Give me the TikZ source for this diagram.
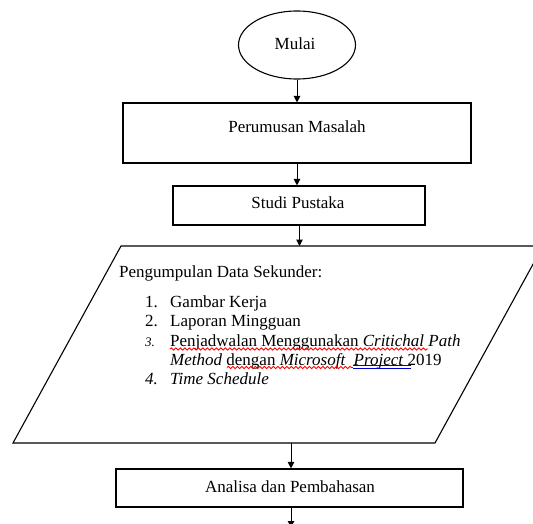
\documentclass[tikz,border=0pt]{standalone}
\usepackage{fontspec}
\setmainfont{Liberation Serif}
\usetikzlibrary{arrows.meta,shapes.geometric,decorations.pathmorphing}
\begin{document}
\begin{tikzpicture}[x=1pt,y=-1pt,
  box/.style={draw,line width=1.1pt,rectangle,inner sep=0pt},
  txt/.style={font=\fontsize{17}{19}\selectfont,inner sep=0pt},
  arr/.style={line width=1pt,-{Triangle[width=6.5pt,length=6.5pt]}},
  wave/.style={draw=red,line width=0.9pt,decorate,decoration={snake,segment length=4.5pt,amplitude=1.1pt}},
  dbl/.style={draw=blue!80!black,line width=0.8pt}]
\useasboundingbox (0,0) rectangle (533,524);
\clip (0,0) rectangle (533,524);
\fill[white] (0,0) rectangle (533,524);
% start
\node[draw,line width=1.1pt,ellipse,minimum width=117pt,minimum height=68pt,inner sep=0pt] (mulai) at (297,45) {};
\node[txt] (tmulai) at (295,44) {Mulai};
% boxes
\node[box,minimum width=348pt,minimum height=60pt] (b1) at (297,133) {};
\node[txt] (t1) at (297,127) {Perumusan Masalah};
\node[box,minimum width=252pt,minimum height=39pt] (b2) at (299,205.5) {};
\node[txt] (t2) at (298,203) {Studi Pustaka};
\node[box,minimum width=347pt,minimum height=38pt] (b3) at (289.5,488) {};
\node[txt] (t3) at (290,487) {Analisa dan Pembahasan};
% parallelogram
\coordinate (pbl) at (13,443);
\coordinate (ptl) at (121,246);
\coordinate (ptr) at (543,246);
\coordinate (pbr) at (435,443);
\draw[line width=1.1pt,line join=miter] (pbl) -- (ptl) -- (ptr) -- (pbr) -- cycle;
\coordinate (pin) at (299.5,246);
\coordinate (pout) at (291,443);
\coordinate (fin) at (291,527.5);
% text in parallelogram
\node[txt,anchor=base west] (h) at (119,277.5) {Pengumpulan Data Sekunder:};
\node[txt,anchor=base west] (n1) at (145,307.5) {1.};
\node[txt,anchor=base west] (i1) at (170,307.5) {Gambar Kerja};
\node[txt,anchor=base west] (n2) at (145,326.5) {2.};
\node[txt,anchor=base west] (i2) at (170,326.5) {Laporan Mingguan};
\node[txt,anchor=base west] (n3) at (145,346.5) {\fontsize{13}{15}\selectfont\itshape 3.};
\node[txt,anchor=base west] (i3) at (170,346.5) {Penjadwalan Menggunakan \textit{Critichal Path}};
\node[txt,anchor=base west] (i3b) at (170,365) {\textit{Method} dengan \textit{Microsoft\ \ Project} 2019};
\node[txt,anchor=base west] (n4) at (145,384.5) {\textit{4.}};
\node[txt,anchor=base west] (i4) at (170,384.5) {\textit{Time Schedule}};
% proofing marks
\draw[wave] (170,349) -- (428,349);
\draw[wave] (227,367.5) -- (353,367.5);
\draw[dbl] (353,365.5) -- (411,365.5);
\draw[dbl] (353,368.5) -- (411,368.5);
% connectors
\draw[arr] (mulai.south -| b1.north) -- (b1.north);
\draw[arr] (b1.south) -- (b1.south |- b2.north);
\draw[arr] (b2.south -| pin) -- (pin);
\draw[arr] (pout) -- (pout |- b3.north);
\draw[arr] (b3.south -| fin) -- (fin);
\end{tikzpicture}
\end{document}
